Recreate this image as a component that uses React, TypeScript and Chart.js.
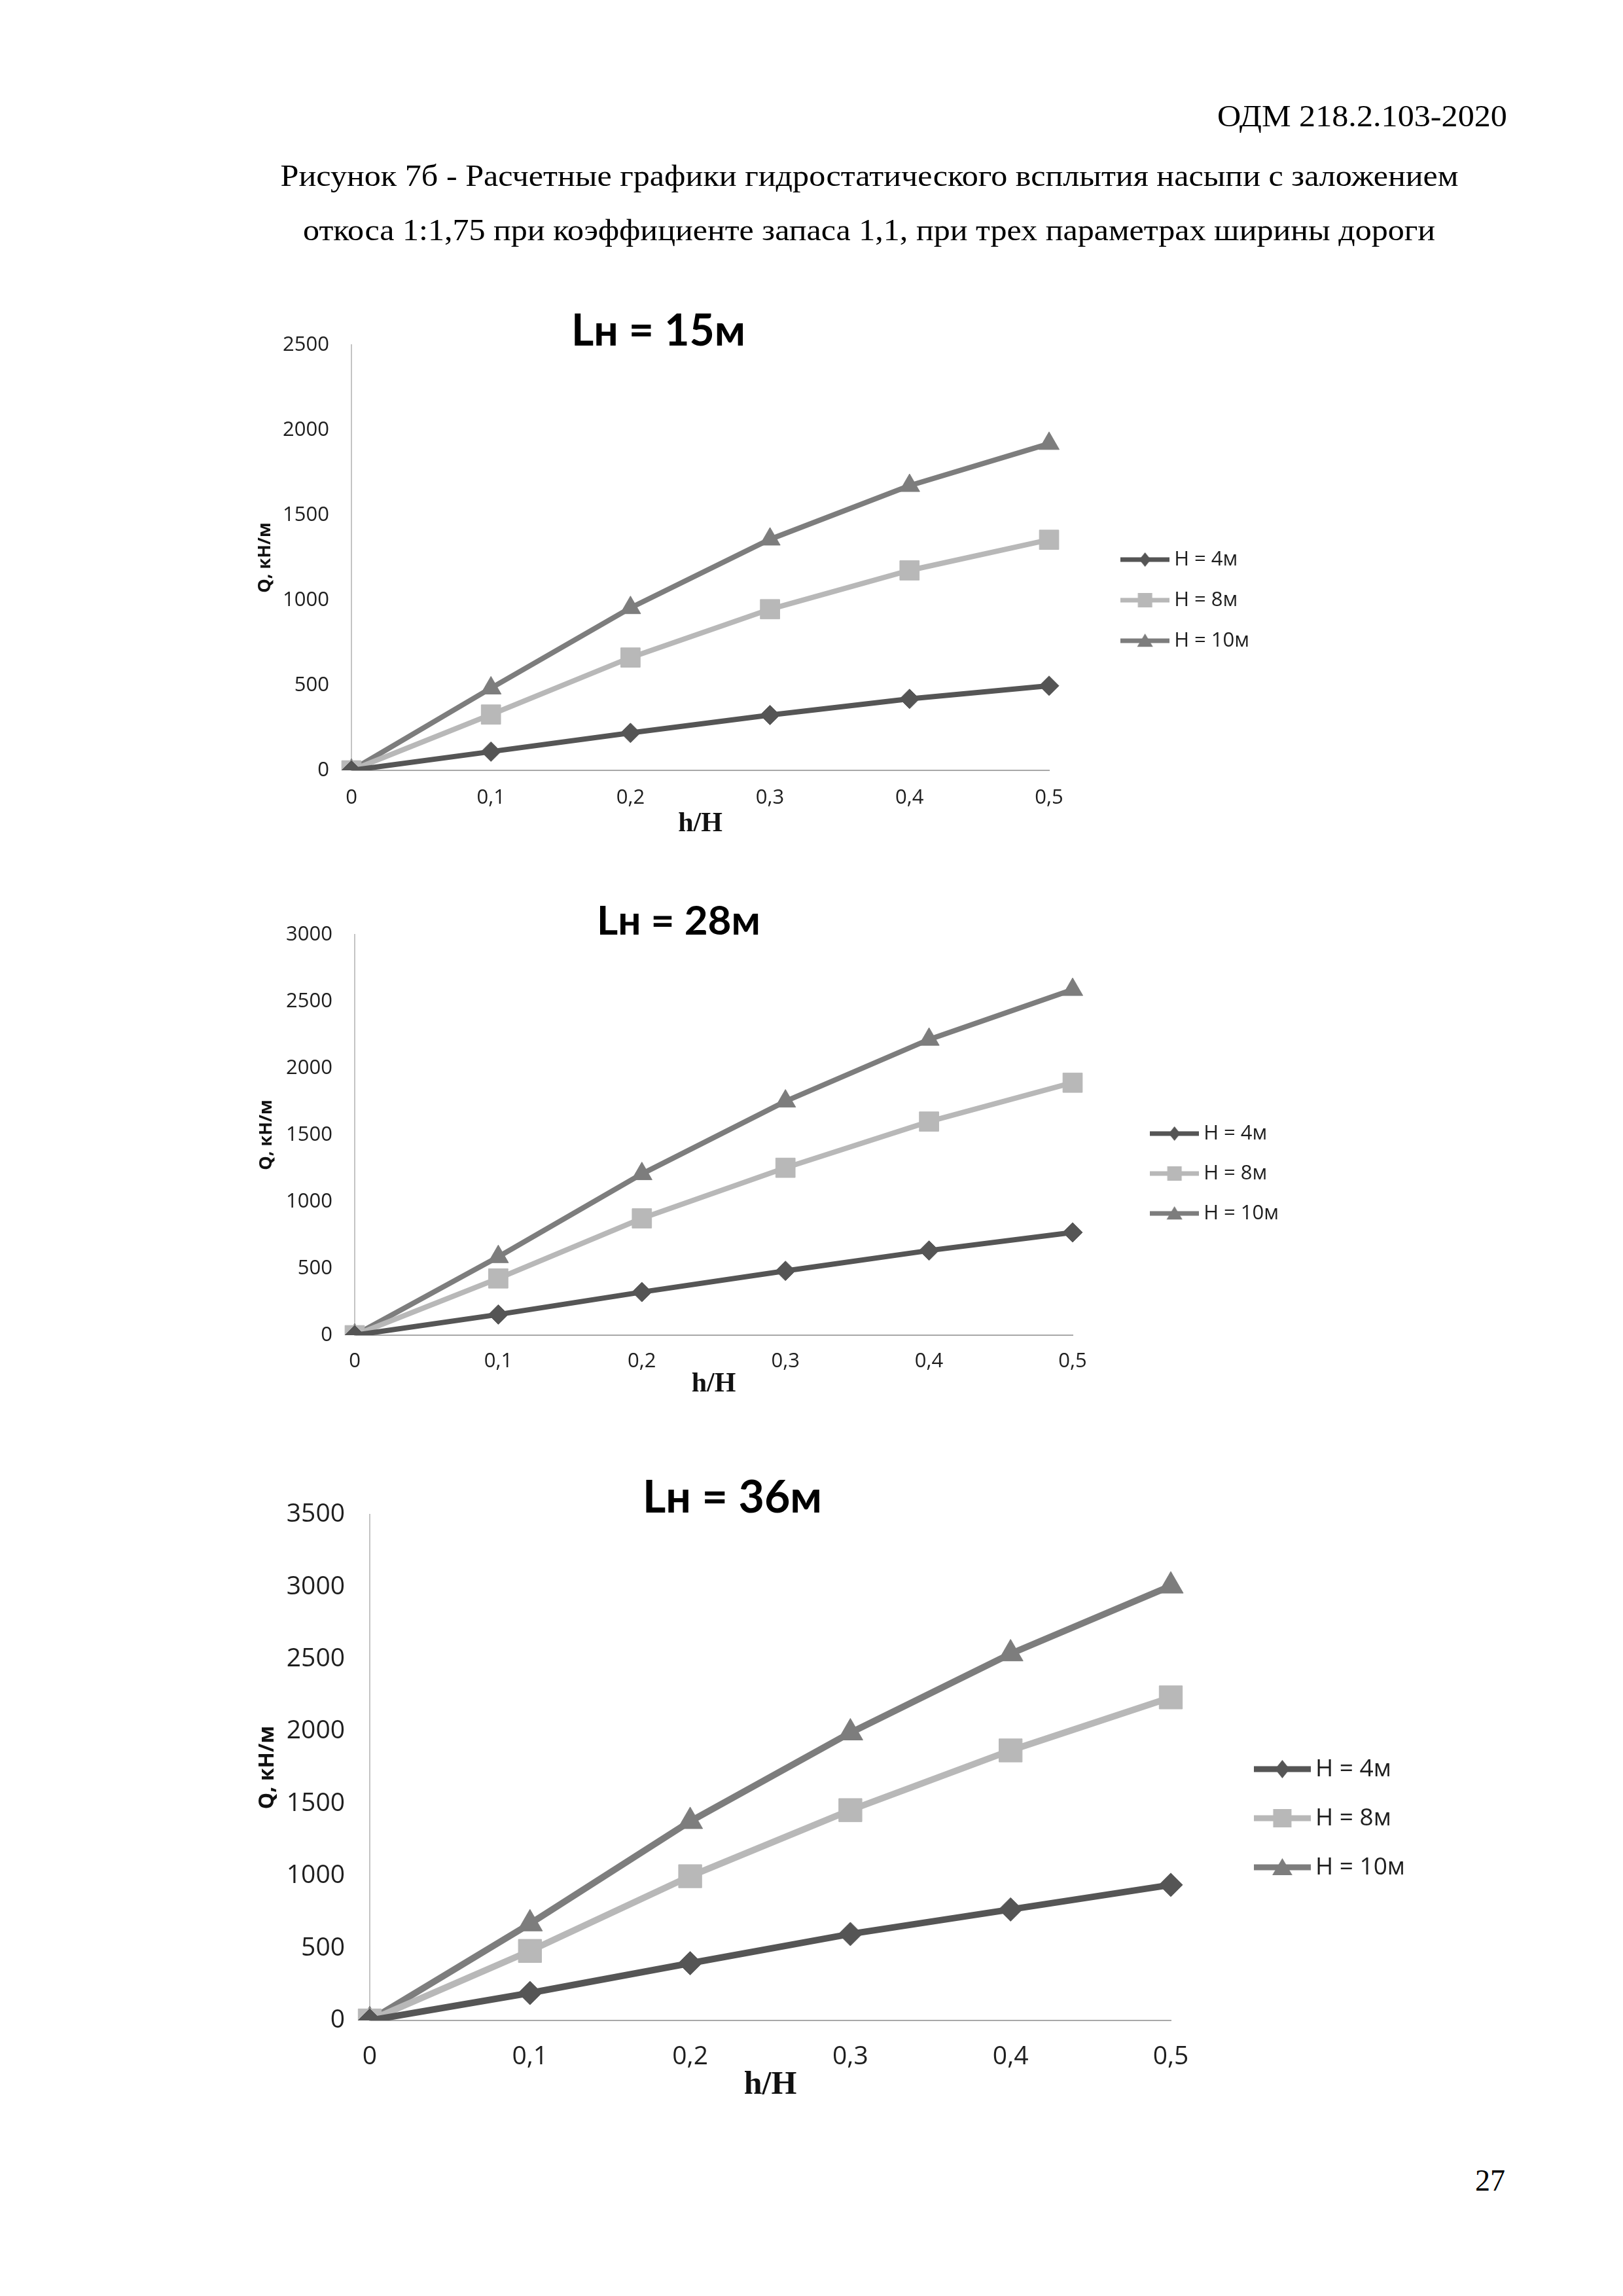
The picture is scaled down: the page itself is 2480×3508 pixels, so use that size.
import React, { useEffect, useLayoutEffect, useRef, useState } from "react";
import { Chart, registerables } from "chart.js";

Chart.register(...registerables);

// ---------------- DATA ----------------
const xLabels = ["0", "0,1", "0,2", "0,3", "0,4", "0,5"];
const seriesNames = ["H = 4м", "H = 8м", "H = 10м"];

const l15_h4 = [0, 110, 220, 325, 420, 497];
const l15_h8 = [0, 328, 663, 947, 1175, 1355];
const l15_h10 = [0, 483, 955, 1358, 1673, 1920];

const l28_h4 = [0, 155, 323, 482, 634, 770];
const l28_h8 = [0, 425, 875, 1254, 1600, 1891];
const l28_h10 = [0, 587, 1208, 1752, 2215, 2588];

const l36_h4 = [0, 190, 396, 598, 768, 938];
const l36_h8 = [0, 481, 998, 1455, 1868, 2235];
const l36_h10 = [0, 669, 1377, 1990, 2537, 3006];

const yMaxes = [2500, 3000, 3500];
const yStep = 500;
const chartTitles = ["Lн = 15м", "Lн = 28м", "Lн = 36м"];
const yAxisTitle = "Q, кН/м";
const xAxisTitle = "h/H";

const docCode = "ОДМ 218.2.103-2020";
const captionLine1 =
  "Рисунок 7б - Расчетные графики гидростатического всплытия насыпи с заложением";
const captionLine2 =
  "откоса 1:1,75 при коэффициенте запаса 1,1, при трех параметрах ширины дороги";
const pageNumber = "27";

const seriesData = [
  [l15_h4, l15_h8, l15_h10],
  [l28_h4, l28_h8, l28_h10],
  [l36_h4, l36_h8, l36_h10],
];

// ---------------- STYLE / LAYOUT ----------------
const seriesColors = ["#555555", "#b8b8b8", "#7d7d7d"];
const seriesStyles = ["rectRot", "rect", "triangle"];
const tickFamily = '"Open Sans", "DejaVu Sans", sans-serif';
const serif = '"Liberation Serif", "DejaVu Serif", serif';

type Layout = {
  canvasLeft: number;
  canvasTop: number;
  canvasBottom: number;
  plotLeft: number;
  plotRight: number;
  plotTop: number;
  plotBottom: number;
  tickFont: number;
  xTickPad: number;
  yTickPad: number;
  legendFont: number;
  legendPad: number;
  legendLeft: number;
  legendImgW: number;
  legendImgH: number;
  legendLineW: number;
  legendMarker: number;
  yTitleFont: number;
  yTitleX: number;
  xTitleFont: number;
  xTitleY: number;
  lineWidth: number;
  radii: number[];
  titleX: number;
  titleY: number;
  titleFont: number;
};

const layouts: Layout[] = [
  {
    canvasLeft: 360, canvasTop: 470, canvasBottom: 1307,
    plotLeft: 537, plotRight: 1603, plotTop: 527, plotBottom: 1177,
    tickFont: 31, xTickPad: 24, yTickPad: 34,
    legendFont: 31, legendPad: 31, legendLeft: 1710,
    legendImgW: 75, legendImgH: 30, legendLineW: 7, legendMarker: 11,
    yTitleFont: 27, yTitleX: 405, xTitleFont: 42, xTitleY: 1259,
    lineWidth: 8, radii: [15, 21, 18],
    titleX: 1006, titleY: 503, titleFont: 66,
  },
  {
    canvasLeft: 360, canvasTop: 1370, canvasBottom: 2158,
    plotLeft: 542, plotRight: 1639, plotTop: 1428, plotBottom: 2040,
    tickFont: 31, xTickPad: 22, yTickPad: 34,
    legendFont: 31, legendPad: 30, legendLeft: 1755,
    legendImgW: 75, legendImgH: 30, legendLineW: 7, legendMarker: 11,
    yTitleFont: 27, yTitleX: 407, xTitleFont: 42, xTitleY: 2115,
    lineWidth: 8, radii: [15, 21, 18],
    titleX: 1037, titleY: 1404, titleFont: 62,
  },
  {
    canvasLeft: 360, canvasTop: 2250, canvasBottom: 3242,
    plotLeft: 565, plotRight: 1789, plotTop: 2314, plotBottom: 3087,
    tickFont: 39, xTickPad: 32, yTickPad: 38,
    legendFont: 37, legendPad: 38, legendLeft: 1913,
    legendImgW: 87, legendImgH: 36, legendLineW: 9, legendMarker: 14,
    yTitleFont: 32, yTitleX: 409, xTitleFont: 50, xTitleY: 3186,
    lineWidth: 10, radii: [18, 25, 22],
    titleX: 1119, titleY: 2285, titleFont: 68,
  },
];

function makeSymbol(style: string, color: string, w: number, h: number, lw: number, m: number) {
  const c = document.createElement("canvas");
  c.width = w;
  c.height = h;
  const ctx = c.getContext("2d")!;
  const cx = w / 2;
  const cy = h / 2;
  ctx.strokeStyle = color;
  ctx.fillStyle = color;
  ctx.lineWidth = lw;
  ctx.beginPath();
  ctx.moveTo(0, cy);
  ctx.lineTo(w, cy);
  ctx.stroke();
  ctx.beginPath();
  if (style === "rectRot") {
    ctx.moveTo(cx, cy - m);
    ctx.lineTo(cx + m * 0.8, cy);
    ctx.lineTo(cx, cy + m);
    ctx.lineTo(cx - m * 0.8, cy);
  } else if (style === "rect") {
    ctx.rect(cx - m, cy - m, 2 * m, 2 * m);
  } else {
    ctx.moveTo(cx, cy - m);
    ctx.lineTo(cx + m * 1.1, cy + m * 0.85);
    ctx.lineTo(cx - m * 1.1, cy + m * 0.85);
  }
  ctx.closePath();
  ctx.fill();
  return c;
}

function measureMax(texts: string[], font: string) {
  const ctx = document.createElement("canvas").getContext("2d")!;
  ctx.font = font;
  return Math.max(...texts.map((t) => ctx.measureText(t).width));
}

function ChartBlock({ idx }: { idx: number }) {
  const ref = useRef<HTMLCanvasElement | null>(null);
  const L = layouts[idx];

  useEffect(() => {
    const canvas = ref.current;
    if (!canvas) return;
    const legendFontStr = `${L.legendFont}px ${tickFamily}`;
    const textW = measureMax(seriesNames, legendFontStr);
    const gap = 7;
    const boxW = L.legendImgW + 2 * gap - L.legendFont;
    const legendBoxLeft = L.legendLeft + gap - L.legendPad;
    const legendW = L.legendPad + L.legendImgW + textW + 10;
    const canvasRight = Math.ceil(legendBoxLeft + legendW) + 2;
    const width = canvasRight - L.canvasLeft;
    const height = L.canvasBottom - L.canvasTop;
    canvas.width = width;
    canvas.height = height;
    canvas.style.width = width + "px";
    canvas.style.height = height + "px";

    const symbols = seriesStyles.map((s, i) =>
      makeSymbol(s, seriesColors[i], L.legendImgW, L.legendImgH, L.legendLineW, L.legendMarker)
    );

    const yLh = L.yTitleFont * 1.2;
    const xLh = L.xTitleFont * 1.2;

    const chart = new Chart(canvas, {
      type: "line",
      data: {
        labels: xLabels,
        datasets: seriesNames.map((name, s) => ({
          label: name,
          data: seriesData[idx][s],
          borderColor: seriesColors[s],
          backgroundColor: seriesColors[s],
          borderWidth: L.lineWidth,
          pointStyle: seriesStyles[s] as any,
          pointRadius: L.radii[s],
          pointHoverRadius: L.radii[s],
          pointBorderWidth: 1,
          pointBackgroundColor: seriesColors[s],
          pointBorderColor: seriesColors[s],
          tension: 0,
          fill: false,
        })),
      },
      options: {
        responsive: false,
        animation: false,
        devicePixelRatio: 1,
        layout: {
          padding: { top: L.plotTop - L.canvasTop, left: 0, right: 0, bottom: 0 },
        },
        plugins: {
          title: { display: false },
          tooltip: { enabled: false },
          legend: {
            display: true,
            position: "right",
            align: "center",
            labels: {
              usePointStyle: true,
              pointStyleWidth: boxW,
              padding: L.legendPad,
              color: "#1e1e1e",
              font: { family: tickFamily, size: L.legendFont },
              generateLabels: (ch: any) =>
                ch.data.datasets.map((ds: any, i: number) => ({
                  text: ds.label,
                  pointStyle: symbols[i],
                  fillStyle: seriesColors[i],
                  strokeStyle: seriesColors[i],
                  lineWidth: 0,
                  hidden: false,
                  datasetIndex: i,
                  fontColor: "#1e1e1e",
                })),
            },
          },
        },
        scales: {
          x: {
            type: "category",
            offset: false,
            grid: { display: false, drawTicks: false },
            border: { display: true, color: "#a8a8a8", width: 2 },
            ticks: {
              color: "#1e1e1e",
              padding: L.xTickPad,
              maxRotation: 0,
              autoSkip: false,
              font: { family: tickFamily, size: L.tickFont },
            },
            title: {
              display: true,
              text: xAxisTitle,
              color: "#111",
              font: { family: '"Liberation Serif", serif', size: L.xTitleFont, weight: "bold" },
              padding: { top: 0, bottom: L.canvasBottom - L.xTitleY - xLh / 2 },
            },
            afterFit: (scale: any) => {
              scale.height = L.canvasBottom - L.plotBottom;
            },
          },
          y: {
            type: "linear",
            position: "left",
            min: 0,
            max: yMaxes[idx],
            grid: { display: false, drawTicks: false },
            border: { display: true, color: "#c4c4c4", width: 2 },
            ticks: {
              stepSize: yStep,
              color: "#1e1e1e",
              padding: L.yTickPad,
              font: { family: tickFamily, size: L.tickFont },
              callback: (v: any) => String(v),
            },
            title: {
              display: true,
              text: yAxisTitle,
              color: "#111",
              font: { family: tickFamily, size: L.yTitleFont, weight: "bold" },
              padding: { top: L.yTitleX - L.canvasLeft - yLh / 2, bottom: 0 },
            },
            afterFit: (scale: any) => {
              scale.width = L.plotLeft - L.canvasLeft;
            },
          },
          gap: {
            type: "linear",
            position: "right",
            display: true,
            grid: { display: false, drawTicks: false },
            border: { display: false },
            ticks: { display: false },
            afterFit: (scale: any) => {
              const lg = scale.chart.legend;
              const lw = lg ? lg.width : legendW;
              scale.width = Math.max(0, width - lw - (L.plotRight - L.canvasLeft));
            },
          },
        },
      } as any,
    });
    return () => chart.destroy();
  }, [idx]);

  return (
    <>
      <canvas
        ref={ref}
        style={{ position: "absolute", left: L.canvasLeft, top: L.canvasTop }}
      />
      <div
        style={{
          position: "absolute",
          left: L.titleX,
          top: L.titleY,
          transform: "translate(-50%, -50%)",
          fontFamily: 'Lato, "Open Sans", sans-serif',
          fontWeight: 700,
          fontSize: L.titleFont,
          lineHeight: 1,
          whiteSpace: "nowrap",
          color: "#000",
        }}
      >
        {chartTitles[idx]}
      </div>
    </>
  );
}

// Text line stretched/compressed horizontally to the printed width of the page
function FitLine({
  text, centerX, top, width, size,
}: { text: string; centerX: number; top: number; width: number; size: number }) {
  const [sx, setSx] = useState(1);
  useLayoutEffect(() => {
    const ctx = document.createElement("canvas").getContext("2d")!;
    ctx.font = `${size}px ${serif}`;
    const w = ctx.measureText(text).width;
    if (w > 0) setSx(width / w);
  }, [text, width, size]);
  return (
    <div
      style={{
        position: "absolute",
        left: centerX,
        top,
        transform: `translateX(-50%) scaleX(${sx})`,
        transformOrigin: "0 0",
        fontFamily: serif,
        fontSize: size,
        lineHeight: `${size}px`,
        whiteSpace: "nowrap",
        color: "#000",
      }}
    >
      <span style={{ display: "inline-block", transform: "none" }}>{text}</span>
    </div>
  );
}

function FitLineCentered({
  text, centerX, top, width, size,
}: { text: string; centerX: number; top: number; width: number; size: number }) {
  const [sx, setSx] = useState(1);
  const [w0, setW0] = useState(width);
  useLayoutEffect(() => {
    const ctx = document.createElement("canvas").getContext("2d")!;
    ctx.font = `${size}px ${serif}`;
    const w = ctx.measureText(text).width;
    if (w > 0) {
      setSx(width / w);
      setW0(w);
    }
  }, [text, width, size]);
  return (
    <div
      style={{
        position: "absolute",
        left: centerX - w0 / 2,
        top,
        width: w0,
        transform: `scaleX(${sx})`,
        transformOrigin: "50% 0",
        fontFamily: serif,
        fontSize: size,
        lineHeight: `${size}px`,
        whiteSpace: "nowrap",
        color: "#000",
      }}
    >
      {text}
    </div>
  );
}

export default function App() {
  return (
    <div
      style={{
        position: "absolute",
        left: 0,
        top: 0,
        width: 2480,
        height: 3508,
        background: "#fff",
        overflow: "hidden",
      }}
    >
      <FitLineCentered text={docCode} centerX={2081} top={154} width={443} size={47} />
      <FitLineCentered text={captionLine1} centerX={1329} top={245} width={1800} size={47} />
      <FitLineCentered text={captionLine2} centerX={1328} top={328} width={1730} size={47} />
      {layouts.map((_, i) => (
        <ChartBlock key={i} idx={i} />
      ))}
      <div
        style={{
          position: "absolute",
          right: 2480 - 2300,
          top: 3309,
          fontFamily: serif,
          fontSize: 46,
          lineHeight: "46px",
          whiteSpace: "nowrap",
          color: "#000",
        }}
      >
        {pageNumber}
      </div>
    </div>
  );
}
